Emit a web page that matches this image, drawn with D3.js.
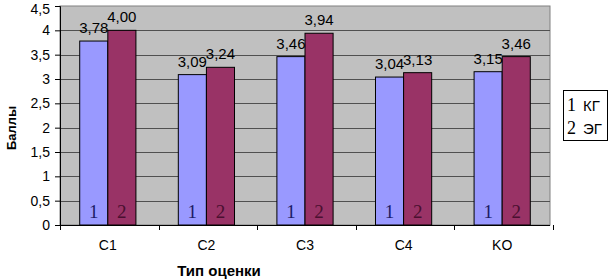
<!DOCTYPE html>
<html>
<head>
<meta charset="utf-8">
<script src="https://cdn.jsdelivr.net/npm/d3@7"></script>
<style>
  body { margin: 0; background: #fff; }
  text { font-family: Arial, "Liberation Sans", sans-serif; }
</style>
</head>
<body>
<div id="chart"></div>
<script>
// chart data
const categories = ["C1", "C2", "C3", "C4", "KO"];
const seriesKeys = ["1", "2"];
const seriesNames = ["КГ", "ЭГ"];
const kgValues = [3.78, 3.09, 3.46, 3.04, 3.15];
const egValues = [4.00, 3.24, 3.94, 3.13, 3.46];
const yTicks = [0, 0.5, 1, 1.5, 2, 2.5, 3, 3.5, 4, 4.5];

const colors = ["#9999ff", "#993366"];
const innerTextColors = ["#1c1c66", "#4a1030"];

const width = 608, height = 280;
const margin = { top: 6, right: 58, bottom: 55, left: 60 };
const plotW = width - margin.left - margin.right;
const plotH = height - margin.top - margin.bottom;

const svg = d3.select("#chart").append("svg")
    .attr("width", width)
    .attr("height", height);

const g = svg.append("g")
    .attr("transform", "translate(" + margin.left + "," + margin.top + ")");

// scales
const x0 = d3.scaleBand()
    .domain(categories)
    .range([0, plotW])
    .paddingInner(0.43)
    .paddingOuter(0.2);

const x1 = d3.scaleBand()
    .domain(seriesKeys)
    .range([0, x0.bandwidth()]);

const y = d3.scaleLinear()
    .domain([0, 4.5])
    .range([plotH, 0]);

// plot background
g.append("rect")
    .attr("width", plotW)
    .attr("height", plotH)
    .attr("fill", "#c0c0c0")
    .attr("stroke", "#808080")
    .attr("stroke-width", 1);

// gridlines
g.selectAll(".grid")
    .data(yTicks.filter(d => d > 0 && d < 4.5))
    .enter().append("line")
    .attr("class", "grid")
    .attr("x1", 0)
    .attr("x2", plotW)
    .attr("y1", d => Math.round(y(d)) + 0.5)
    .attr("y2", d => Math.round(y(d)) + 0.5)
    .attr("stroke", "#505050")
    .attr("stroke-width", 1);

// bars
const rows = categories.map((c, i) => ({ cat: c, vals: [kgValues[i], egValues[i]] }));

const groups = g.selectAll(".group")
    .data(rows)
    .enter().append("g")
    .attr("class", "group")
    .attr("transform", d => "translate(" + x0(d.cat) + ",0)");

const bars = groups.selectAll(".bar")
    .data(d => d.vals.map((v, j) => ({ key: seriesKeys[j], j: j, value: v })))
    .enter();

bars.append("rect")
    .attr("class", "bar")
    .attr("x", d => x1(d.key))
    .attr("width", x1.bandwidth())
    .attr("y", d => y(d.value))
    .attr("height", d => plotH - y(d.value))
    .attr("fill", d => colors[d.j])
    .attr("stroke", "#000")
    .attr("stroke-width", 1);

// value labels
bars.append("text")
    .attr("x", d => x1(d.key) + x1.bandwidth() / 2)
    .attr("y", d => y(d.value) - 8)
    .attr("text-anchor", "middle")
    .attr("font-size", 15)
    .attr("fill", "#000")
    .text(d => d.value.toFixed(2).replace(".", ","));

// series numbers inside bars
bars.append("text")
    .attr("x", d => x1(d.key) + x1.bandwidth() / 2)
    .attr("y", plotH - 7)
    .attr("text-anchor", "middle")
    .attr("font-size", 19)
    .style("font-family", "'Liberation Serif', 'Times New Roman', serif")
    .attr("fill", d => innerTextColors[d.j])
    .text(d => d.key);

// axes
const yAxis = d3.axisLeft(y)
    .tickValues(yTicks)
    .tickSize(5)
    .tickFormat(d => String(d).replace(".", ","));

g.append("g")
    .attr("class", "y-axis")
    .call(yAxis)
    .call(s => s.select(".domain").attr("stroke", "#000"))
    .call(s => s.selectAll("text").attr("font-size", 14).attr("fill", "#000").attr("dx", -2))
    .call(s => s.selectAll("text").style("font-family", "Arial, 'Liberation Sans', sans-serif"))
    // keep the top label inside the picture
    .call(s => s.selectAll(".tick").filter(d => d === 4.5).select("text").attr("dy", "0.5em"));

g.append("line")
    .attr("x1", 0).attr("x2", plotW)
    .attr("y1", plotH + 0.5).attr("y2", plotH + 0.5)
    .attr("stroke", "#000");

// x ticks at category boundaries
const step = x0.step();
g.selectAll(".xtick")
    .data(d3.range(categories.length + 1))
    .enter().append("line")
    .attr("class", "xtick")
    .attr("x1", i => Math.round(i * step) + 0.5)
    .attr("x2", i => Math.round(i * step) + 0.5)
    .attr("y1", plotH)
    .attr("y2", plotH + 5)
    .attr("stroke", "#000");

g.selectAll(".xlabel")
    .data(categories)
    .enter().append("text")
    .attr("class", "xlabel")
    .attr("x", d => x0(d) + x0.bandwidth() / 2)
    .attr("y", plotH + 25)
    .attr("text-anchor", "middle")
    .attr("font-size", 14)
    .text(d => d);

// axis titles
svg.append("text")
    .attr("x", 219)
    .attr("y", 276)
    .attr("text-anchor", "middle")
    .attr("font-size", 15)
    .attr("font-weight", "bold")
    .text("Тип оценки");

svg.append("text")
    .attr("transform", "translate(16,128) rotate(-90)")
    .attr("text-anchor", "middle")
    .attr("font-size", 13)
    .attr("font-weight", "bold")
    .text("Баллы");

// legend
const legend = svg.append("g")
    .attr("transform", "translate(563,90)");

legend.append("rect")
    .attr("x", 0.5).attr("y", 0.5)
    .attr("width", 44).attr("height", 50)
    .attr("fill", "#fff")
    .attr("stroke", "#000");

const items = legend.selectAll(".item")
    .data(seriesKeys)
    .enter().append("g")
    .attr("class", "item")
    .attr("transform", (d, i) => "translate(0," + (21 + i * 23) + ")");

items.append("text")
    .attr("x", 4)
    .attr("font-size", 18)
    .style("font-family", "'Liberation Serif', 'Times New Roman', serif")
    .text(d => d);

items.append("text")
    .attr("x", 20)
    .attr("font-size", 15)
    .text((d, i) => seriesNames[i]);
</script>
</body>
</html>
